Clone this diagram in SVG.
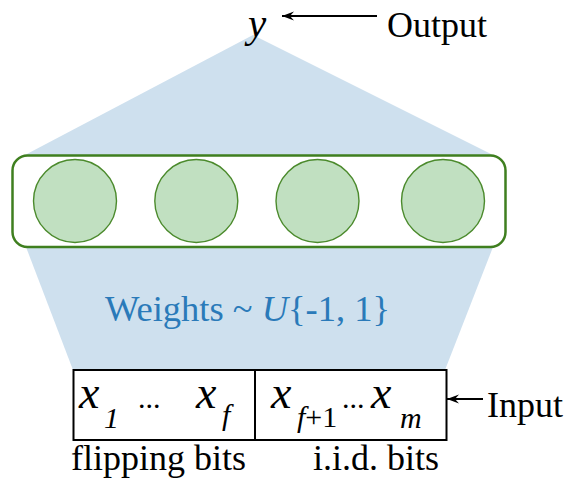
<svg xmlns="http://www.w3.org/2000/svg" width="582" height="487" viewBox="0 0 582 487">
<style>
text{font-family:"Liberation Serif","Times New Roman","DejaVu Serif",serif;fill:#000}
.it{font-style:italic}
.node{fill:#c1e0c1;stroke:#4b8a2c;stroke-width:1.4}
.ln{stroke:#000;stroke-width:1.8;fill:none}
</style>
<defs>
<marker id="ah" viewBox="0 0 12 10" refX="12" refY="5" markerWidth="12" markerHeight="10" markerUnits="userSpaceOnUse" orient="auto">
<path d="M12,5 L0,0.5 L4,5 L0,9.5 z" fill="#000"/>
</marker>
</defs>
<g id="cone">
<polygon points="253,35 25,155 493,155" fill="#cee0ee"/>
<polygon points="26,247 493,247 445,370 73,370" fill="#cee0ee"/>
</g>
<g id="layer">
<rect x="12.5" y="155.5" width="493" height="91.5" rx="15" fill="#fff" stroke="#3f7f1f" stroke-width="2.5"/>
</g>
<g id="n1"><circle class="node" cx="75" cy="201" r="41.5"/></g>
<g id="n2"><circle class="node" cx="196.3" cy="201" r="41.5"/></g>
<g id="n3"><circle class="node" cx="317.5" cy="201" r="41.5"/></g>
<g id="n4"><circle class="node" cx="443" cy="201" r="41.5"/></g>
<g id="weights">
<text x="105" y="321" font-size="36.5" style="fill:#2a7ab9">Weights ~ <tspan class="it">U</tspan>{-1, 1}</text>
</g>
<g id="output">
<text class="it" x="248" y="37" font-size="41">y</text>
<text x="387" y="37" font-size="36">Output</text>
</g>
<g id="input">
<rect x="73.5" y="370" width="373" height="70" fill="#fff" stroke="#000" stroke-width="2"/>
<line x1="255" y1="370" x2="255" y2="440" stroke="#000" stroke-width="2"/>
<text class="it" x="79" y="408" font-size="46">x</text>
<text class="it" x="104" y="428" font-size="30">1</text>
<text x="138" y="408" font-size="30">...</text>
<text class="it" x="196" y="408" font-size="46">x</text>
<text class="it" x="222" y="425" font-size="30">f</text>
<text class="it" x="271" y="408" font-size="46">x</text>
<text x="297" y="427" font-size="30"><tspan class="it">f</tspan>+1</text>
<text x="342" y="408" font-size="30">...</text>
<text class="it" x="371" y="408" font-size="46">x</text>
<text class="it" x="400" y="428" font-size="30">m</text>
<text x="487" y="417" font-size="36">Input</text>
<text x="71" y="470" font-size="36">flipping bits</text>
<text x="313" y="470" font-size="36">i.i.d. bits</text>
</g>
<g id="connectors">
<line class="ln" x1="377" y1="16" x2="282" y2="16" marker-end="url(#ah)"/>
<line class="ln" x1="483" y1="399" x2="447" y2="399" marker-end="url(#ah)"/>
</g>
</svg>
